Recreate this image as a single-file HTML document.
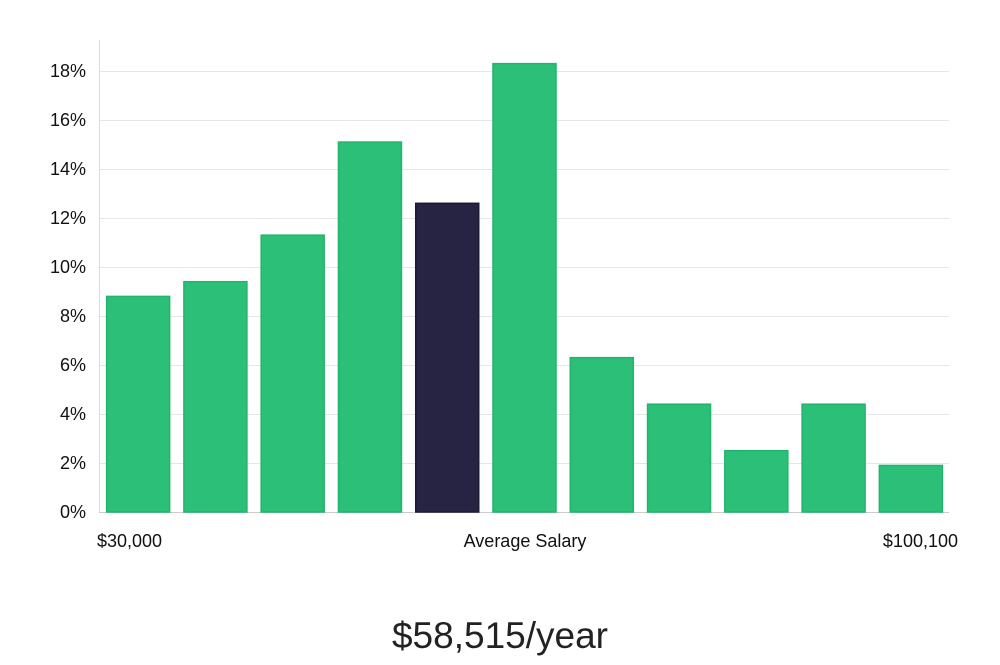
<!DOCTYPE html>
<html><head><meta charset="utf-8"><style>
body{margin:0;background:#fff;width:1000px;height:660px;overflow:hidden;font-family:"Liberation Sans","DejaVu Sans",sans-serif}
</style></head><body>
<svg id="chart" width="1000" height="660" xmlns="http://www.w3.org/2000/svg">
<g id="grid"></g>
<line x1="99.5" y1="40" x2="99.5" y2="512" stroke="#ddd" stroke-width="1"/>
<g id="yticks"></g>
<g id="bars"></g>
<text x="97" y="547" font-size="18" fill="#111">$30,000</text>
<text x="525" y="547" font-size="18" fill="#111" text-anchor="middle">Average Salary</text>
<text x="958" y="547" font-size="18" fill="#111" text-anchor="end">$100,100</text>
<text x="500" y="648" font-size="37" fill="#222" text-anchor="middle" font-weight="300">$58,515/year</text>
</svg>
<script>
const categories=["b1","b2","b3","b4","b5","b6","b7","b8","b9","b10","b11"];
const values=[8.8,9.4,11.3,15.1,12.6,18.3,6.3,4.4,2.5,4.4,1.9];
const highlightIndex=4;
const yTicks=[0,2,4,6,8,10,12,14,16,18];
const yTickLabels=["0%","2%","4%","6%","8%","10%","12%","14%","16%","18%"];
const NS="http://www.w3.org/2000/svg";
const x0=99,x1=949,y0=512,pxPerPct=24.5;
const y=v=>y0-v*pxPerPct;
const band=(x1-x0)/categories.length;
const grid=document.getElementById('grid'),yt=document.getElementById('yticks'),bars=document.getElementById('bars');
yTicks.forEach((t,i)=>{
  const l=document.createElementNS(NS,'line');
  
  
  l.setAttribute('x1',x0);l.setAttribute('x2',x1);
  l.setAttribute('y1',y(t)+0.5);l.setAttribute('y2',y(t)+0.5);
  l.setAttribute('stroke',t===0?'#ccc':'#e6e6e6');
  grid.appendChild(l);
  const tx=document.createElementNS(NS,'text');
  
  
  tx.setAttribute('x',86);tx.setAttribute('y',y(t)+6);
  tx.setAttribute('text-anchor','end');tx.setAttribute('font-size','18');tx.setAttribute('fill','#111');
  tx.textContent=yTickLabels[i];
  yt.appendChild(tx);
});
values.forEach((v,i)=>{
  const r=document.createElementNS(NS,'rect');
  
  
  const w=63;
  r.setAttribute('x',x0+i*band+(band-w)/2+0.5);
  r.setAttribute('y',y(v));
  r.setAttribute('width',w);
  r.setAttribute('height',y0-y(v));
  r.setAttribute('fill',i===highlightIndex?'#272443':'#2bbf78');
  r.setAttribute('stroke',i===highlightIndex?'#1c1a33':'#22b46c');
  r.setAttribute('stroke-width','1.5');
  bars.appendChild(r);
});
</script>
</body></html>
